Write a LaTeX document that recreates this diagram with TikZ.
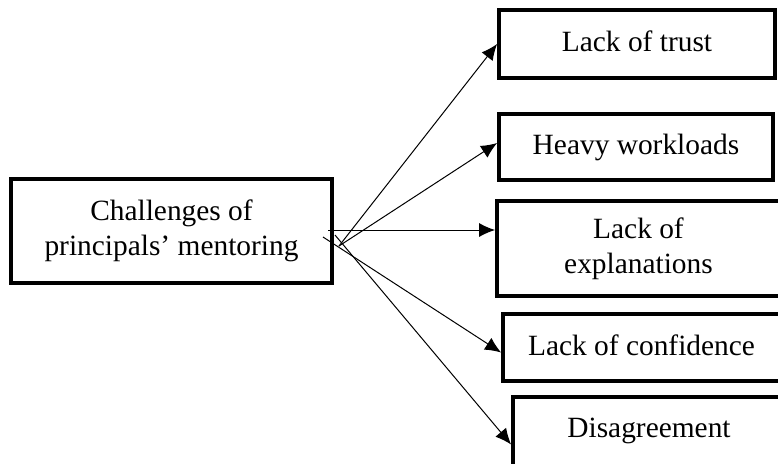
\documentclass[tikz,border=0pt]{standalone}
\usepackage{fontspec}
\setmainfont{Liberation Serif}
\usetikzlibrary{arrows.meta}

\begin{document}
\begin{tikzpicture}[x=0.5pt, y=-0.5pt, >={Latex[length=8pt,width=7pt]},
  box/.style={draw, line width=1.9pt, rectangle, align=center, inner sep=0pt,
    font=\fontsize{14.7}{17.3}\selectfont},
  onebox/.style={box, text depth=0.25em}]
\useasboundingbox (0,0) rectangle (778,463);

\node(Chal)[box, minimum width=160.5pt, minimum height=52pt] at (171.5,231) {Challenges of\\principals' mentoring};

\node(Trust)[onebox, minimum width=138pt, minimum height=34pt] at (637,44) {Lack of trust};
\node(Work)[onebox, minimum width=137pt, minimum height=33pt] at (636,147) {Heavy workloads};
\node(Expl)[box, minimum width=141.5pt, minimum height=47.5pt] at (638.5,248.5) {Lack of\\explanations};
\node(Conf)[onebox, minimum width=138.5pt, minimum height=33.5pt] at (641.5,347.5) {Lack of confidence};
\node(Dis)[onebox, text depth=0.6em, minimum width=136pt, minimum height=36.5pt] at (649,433.5) {Disagreement};

\coordinate(S1) at (339,246);
\coordinate(S2) at (328,230);
\coordinate(S3) at (323,237);
\coordinate(S4) at (335,235);

\draw[line width=0.5pt] (S1) edge[->] (Trust.west);
\draw[line width=0.5pt] (S1) edge[->] ([yshift=2pt]Work.west);
\draw[line width=0.5pt] (S2) edge[->] (S2 -| Expl.west);
\draw[line width=0.5pt] (S3) edge[->] ([yshift=-2.5pt]Conf.west);
\draw[line width=0.5pt] (S4) edge[->] ([yshift=-5.5pt]Dis.west);
\end{tikzpicture}
\end{document}
